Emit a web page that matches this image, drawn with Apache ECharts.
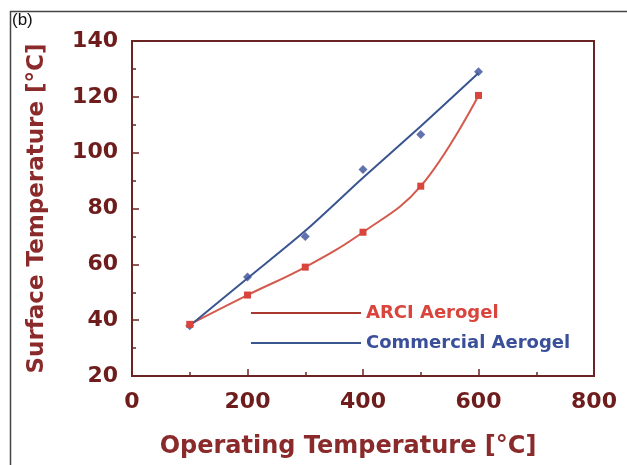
<!DOCTYPE html>
<html>
<head>
<meta charset="utf-8">
<script src="https://cdn.jsdelivr.net/npm/echarts@6/dist/echarts.min.js"></script>
<style>
html,body{margin:0;padding:0;background:#fff;}
#chart{width:627px;height:465px;}
</style>
</head>
<body>
<div id="chart"></div>
<script>
var operatingTemps = [100, 200, 300, 400, 500, 600];
var arciValues = [38.5, 49, 59, 71.5, 88, 120.5];
var commercialValues = [38, 55.5, 70, 94, 106.5, 129];
var commercialCurve = [38, 55, 72, 91, 109.5, 128.5];
var xTicks = [0, 200, 400, 600, 800];
var yTicks = [20, 40, 60, 80, 100, 120, 140];

var labelColor = '#6e1c1c';
var titleColor = '#8a2a2a';
var axisColor = '#6b2424';
var red = '#d9443c';
var blue = '#3a4f9a';

function pairs(xs, ys){ return xs.map(function(x,i){ return [x, ys[i]]; }); }

var chart = echarts.init(document.getElementById('chart'));
chart.setOption({
  animation: false,
  backgroundColor: '#ffffff',
  grid: {left: 132, right: 33, top: 41, bottom: 89, show: true, borderColor: axisColor, borderWidth: 2, backgroundColor: 'transparent'},
  graphic: [
    {type: 'polyline', shape: {points: [[10.5, 465], [10.5, 11.5], [627, 11.5]]}, style: {stroke: '#444', lineWidth: 1.5, fill: null}},
    {type: 'text', left: 12, top: 12, style: {text: '(b)', font: '17px "Liberation Sans", Arial, sans-serif', fill: '#111'}}
  ],
  legend: {
    orient: 'vertical', left: 246, top: 299, itemWidth: 110, itemHeight: 2, itemGap: 12,
    textStyle: {fontFamily: '"DejaVu Sans", sans-serif', fontWeight: 'bold', fontSize: 18, padding: [0,0,0,0]},
    data: [
      {name: 'ARCI Aerogel', icon: 'rect', itemStyle: {color: '#a83a30'}, textStyle: {color: red}},
      {name: 'Commercial Aerogel', icon: 'rect', itemStyle: {color: '#3a5590'}, textStyle: {color: blue}}
    ]
  },
  xAxis: {
    type: 'value', min: 0, max: 800, interval: 200,
    name: 'Operating Temperature [°C]', nameLocation: 'middle', nameGap: 59,
    nameTextStyle: {color: titleColor, fontFamily: '"DejaVu Sans", sans-serif', fontWeight: 'bold', fontSize: 24, padding: [0, 30, 0, 0]},
    axisLine: {show: true, lineStyle: {color: axisColor, width: 2}},
    axisTick: {show: true, inside: true, length: 7, lineStyle: {color: axisColor, width: 1.5}},
    minorTick: {show: true, splitNumber: 2, length: 4, lineStyle: {color: axisColor, width: 1.5}},
    splitLine: {show: false},
    axisLabel: {color: labelColor, fontFamily: '"DejaVu Sans", sans-serif', fontWeight: 'bold', fontSize: 22, margin: 15,
      formatter: function(v){ return xTicks.indexOf(v) >= 0 ? String(v) : ''; }}
  },
  yAxis: {
    type: 'value', min: 20, max: 140, interval: 20,
    name: 'Surface Temperature [°C]', nameLocation: 'middle', nameGap: 83, nameRotate: 90,
    nameTextStyle: {color: titleColor, fontFamily: '"DejaVu Sans", sans-serif', fontWeight: 'bold', fontSize: 23},
    axisLine: {show: true, lineStyle: {color: axisColor, width: 2}},
    axisTick: {show: true, inside: true, length: 7, lineStyle: {color: axisColor, width: 1.5}},
    minorTick: {show: true, splitNumber: 2, length: 4, lineStyle: {color: axisColor, width: 1.5}},
    splitLine: {show: false},
    axisLabel: {color: labelColor, fontFamily: '"DejaVu Sans", sans-serif', fontWeight: 'bold', fontSize: 22, margin: 14,
      formatter: function(v){ return yTicks.indexOf(v) >= 0 ? String(v) : ''; }}
  },
  series: [
    {
      name: 'ARCI Aerogel', type: 'line', smooth: 0.4,
      data: pairs(operatingTemps, arciValues),
      symbol: 'rect', symbolSize: 7, showAllSymbol: true,
      itemStyle: {color: red},
      lineStyle: {color: '#d35a4c', width: 2}
    },
    {
      name: 'Commercial Aerogel', type: 'line', smooth: 0.3,
      data: pairs(operatingTemps, commercialCurve),
      symbol: 'none', showSymbol: false,
      itemStyle: {color: '#3a5590'},
      lineStyle: {color: '#3a5590', width: 2}
    },
    {
      name: 'Commercial points', type: 'scatter',
      data: pairs(operatingTemps, commercialValues),
      symbol: 'diamond', symbolSize: 9,
      itemStyle: {color: '#3a4f9a'}
    }
  ]
});
</script>
</body>
</html>
